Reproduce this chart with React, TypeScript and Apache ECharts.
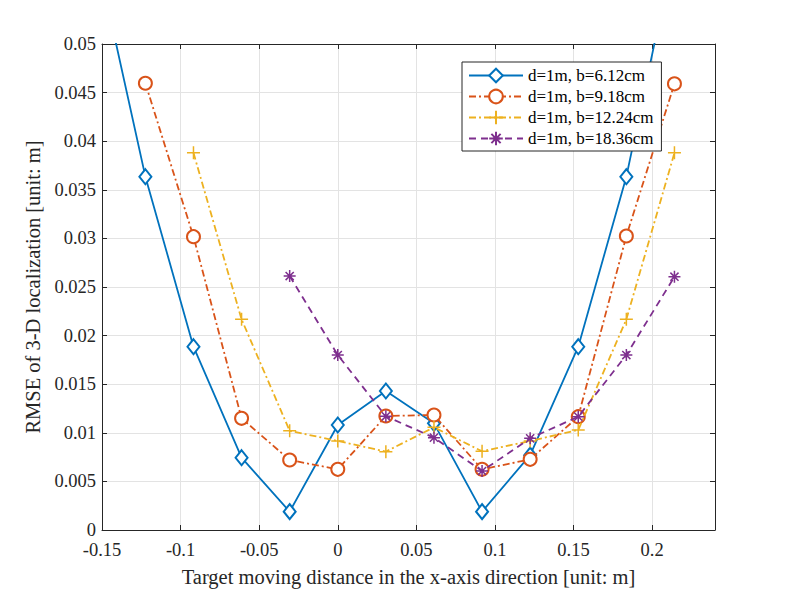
import React, { useEffect, useRef } from "react";
import * as echarts from "echarts";

const xs = [-0.153, -0.1224, -0.0918, -0.0612, -0.0306, 0, 0.0306, 0.0612, 0.0918, 0.1224, 0.153, 0.1836, 0.2142];
const seriesNames = ["d=1m, b=6.12cm", "d=1m, b=9.18cm", "d=1m, b=12.24cm", "d=1m, b=18.36cm"];
const blueVals = [0.0588, 0.03635, 0.01886, 0.00744, 0.00189, 0.0108, 0.0143, 0.01097, 0.00189, 0.0077, 0.01886, 0.03635, 0.0598];
const orangeVals = [null, 0.04596, 0.03018, 0.01149, 0.0072, 0.00624, 0.01173, 0.01183, 0.00624, 0.00727, 0.01166, 0.03025, 0.0459];
const yellowVals = [null, null, 0.0388, 0.02167, 0.0102, 0.00916, 0.00806, 0.01056, 0.0081, 0.00916, 0.01029, 0.02167, 0.0388];
const purpleVals = [null, null, null, null, 0.02613, 0.018, 0.0117, 0.0095, 0.00607, 0.00943, 0.01166, 0.018, 0.02606];

const xTickLabels = ["-0.15", "-0.1", "-0.05", "0", "0.05", "0.1", "0.15", "0.2"];
const yTickLabels = ["0", "0.005", "0.01", "0.015", "0.02", "0.025", "0.03", "0.035", "0.04", "0.045", "0.05"];

const FONT = "Liberation Serif";
const AXIS_COLOR = "#262626";

function pairs(vals: (number | null)[]) {
  const out: number[][] = [];
  vals.forEach((v, i) => {
    if (v !== null) out.push([xs[i], v]);
  });
  return out;
}

const PLUS = "path://M5,0 L5,10 M0,5 L10,5";
const STAR = "path://M5,0 L5,10 M0,5 L10,5 M1.6,1.6 L8.4,8.4 M8.4,1.6 L1.6,8.4";

export default function App() {
  const ref = useRef<HTMLDivElement>(null);
  useEffect(() => {
    if (!ref.current) return;
    const chart = echarts.init(ref.current, undefined, { renderer: "svg" });
    const fmt = (labels: string[]) => (v: number) => {
      const s = Number(v.toFixed(6)).toString();
      return labels.indexOf(s) >= 0 ? s : "";
    };
    const tickStyle = { fontFamily: FONT, fontSize: 18.5, color: "#262626" };
    const symStyle = (color: string) => ({ color, borderColor: color, borderWidth: 1.5 });
    chart.setOption({
      animation: false,
      backgroundColor: "#ffffff",
      textStyle: { fontFamily: FONT },
      grid: { left: 102, top: 44, right: 74, bottom: 67, containLabel: false },
      xAxis: [
        {
          type: "value",
          min: -0.15,
          max: 0.24,
          interval: 0.05,
          position: "bottom",
          name: "Target moving distance in the x-axis direction [unit: m]",
          nameLocation: "middle",
          nameGap: 36,
          nameTextStyle: { fontFamily: FONT, fontSize: 20.5, color: "#262626" },
          axisLine: { show: true, onZero: false, lineStyle: { color: AXIS_COLOR, width: 1 } },
          axisTick: { show: true, inside: true, length: 5, lineStyle: { color: AXIS_COLOR } },
          axisLabel: { show: true, formatter: fmt(xTickLabels), margin: 10, ...tickStyle },
          splitLine: { show: true, lineStyle: { color: "#e3e3e3", width: 1 } },
        },
        {
          type: "value",
          min: -0.15,
          max: 0.24,
          interval: 0.05,
          position: "top",
          axisLine: { show: true, onZero: false, lineStyle: { color: AXIS_COLOR, width: 1 } },
          axisTick: { show: true, inside: true, length: 5, lineStyle: { color: AXIS_COLOR } },
          axisLabel: { show: false },
          splitLine: { show: false },
        },
      ],
      yAxis: [
        {
          type: "value",
          min: 0,
          max: 0.05,
          interval: 0.005,
          position: "left",
          name: "RMSE of 3-D localization [unit: m]",
          nameLocation: "middle",
          nameGap: 51,
          nameTextStyle: { fontFamily: FONT, fontSize: 20.5, color: "#262626" },
          axisLine: { show: true, onZero: false, lineStyle: { color: AXIS_COLOR, width: 1 } },
          axisTick: { show: true, inside: true, length: 5, lineStyle: { color: AXIS_COLOR } },
          axisLabel: { show: true, formatter: fmt(yTickLabels), margin: 6, ...tickStyle },
          splitLine: { show: true, lineStyle: { color: "#e3e3e3", width: 1 } },
        },
        {
          type: "value",
          min: 0,
          max: 0.05,
          interval: 0.005,
          position: "right",
          axisLine: { show: true, onZero: false, lineStyle: { color: AXIS_COLOR, width: 1 } },
          axisTick: { show: true, inside: true, length: 5, lineStyle: { color: AXIS_COLOR } },
          axisLabel: { show: false },
          splitLine: { show: false },
        },
      ],
      legend: {
        orient: "vertical",
        left: 462,
        top: 62,
        padding: [5, 8, 4, 6],
        itemGap: 4,
        itemWidth: 54,
        itemHeight: 17,
        backgroundColor: "#ffffff",
        borderColor: AXIS_COLOR,
        borderWidth: 1,
        borderRadius: 0,
        textStyle: { fontFamily: FONT, fontSize: 17, color: "#000000" },
        data: seriesNames,
      },
      series: [
        {
          name: seriesNames[0],
          type: "line",
          data: pairs(blueVals),
          color: "#0072BD",
          symbol: "emptyDiamond",
          symbolSize: [12, 15],
          lineStyle: { width: 1.8, type: "solid" },
          itemStyle: symStyle("#0072BD"),
          clip: true,
          z: 2,
        },
        {
          name: seriesNames[1],
          type: "line",
          data: pairs(orangeVals),
          color: "#D95319",
          symbol: "emptyCircle",
          symbolSize: 13,
          lineStyle: { width: 1.8, type: [7, 3, 2, 3] },
          itemStyle: symStyle("#D95319"),
          clip: true,
          z: 3,
        },
        {
          name: seriesNames[2],
          type: "line",
          data: pairs(yellowVals),
          color: "#EDB120",
          symbol: PLUS,
          symbolSize: 13,
          symbolKeepAspect: true,
          lineStyle: { width: 1.8, type: [7, 3, 2, 3] },
          itemStyle: symStyle("#EDB120"),
          clip: true,
          z: 4,
        },
        {
          name: seriesNames[3],
          type: "line",
          data: pairs(purpleVals),
          color: "#7E2F8E",
          symbol: STAR,
          symbolSize: 12,
          symbolKeepAspect: true,
          lineStyle: { width: 1.8, type: [7, 5] },
          itemStyle: symStyle("#7E2F8E"),
          clip: true,
          z: 5,
        },
      ],
    });
    return () => chart.dispose();
  }, []);
  return (
    <div
      ref={ref}
      style={{ position: "fixed", left: 0, top: 0, width: 789, height: 597, background: "#fff" }}
    />
  );
}
